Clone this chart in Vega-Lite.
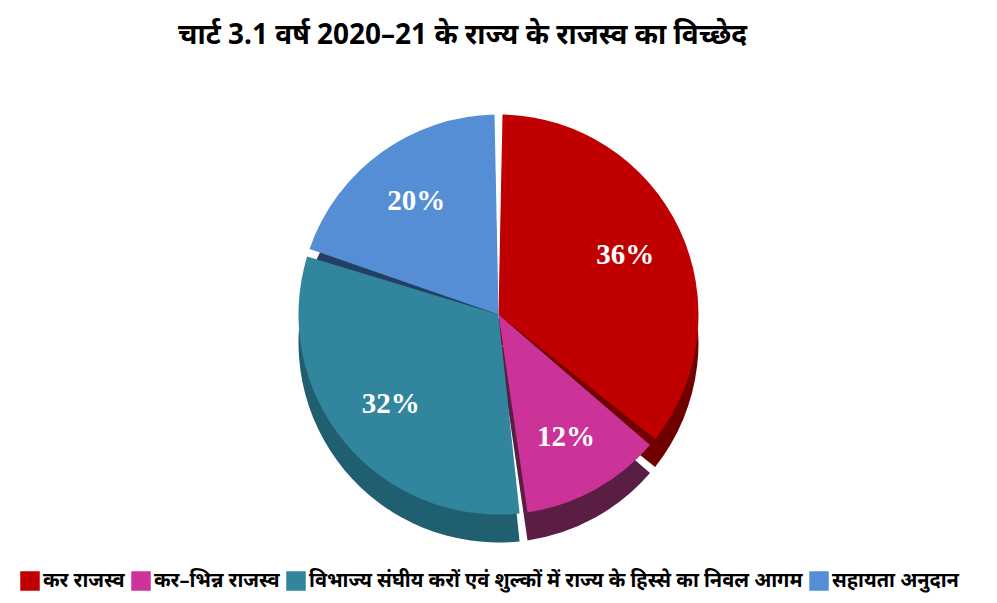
{
  "$schema": "https://vega.github.io/schema/vega-lite/v6.json",
  "autosize": {"type": "fit", "contains": "padding"},
  "width": 997,
  "height": 603,
  "background": "white",
  "padding": {"top": 22, "bottom": 12, "left": 20, "right": 20},
  "title": {
    "text": "चार्ट 3.1 वर्ष 2020–21 के राज्य के राजस्व का विच्छेद",
    "fontSize": 28,
    "fontWeight": "bold",
    "font": "Noto Sans",
    "color": "black",
    "anchor": "middle",
    "dx": -36,
    "offset": 18
  },
  "data": {
    "values": [
      {"category": "कर राजस्व", "value": 36, "label": "36%", "order": 1},
      {"category": "कर–भिन्न राजस्व", "value": 12, "label": "12%", "order": 2},
      {"category": "विभाज्य संघीय करों एवं शुल्कों में राज्य के हिस्से का निवल आगम", "value": 32, "label": "32%", "order": 3},
      {"category": "सहायता अनुदान", "value": 20, "label": "20%", "order": 4}
    ]
  },
  "layer": [
    {
      "mark": {"type": "arc", "radius": 200, "yOffset": 28, "padAngle": 0.04, "stroke": null},
      "encoding": {
        "theta": {"field": "value", "type": "quantitative", "stack": true},
        "order": {"field": "order", "type": "quantitative"},
        "color": {
          "field": "category",
          "type": "nominal",
          "scale": {
            "domain": ["कर राजस्व", "कर–भिन्न राजस्व", "विभाज्य संघीय करों एवं शुल्कों में राज्य के हिस्से का निवल आगम", "सहायता अनुदान"],
            "range": ["#700000", "#5a1e45", "#1f5f70", "#233f63"]
          },
          "legend": null
        }
      }
    },
    {
      "mark": {"type": "arc", "radius": 200, "padAngle": 0.04, "stroke": null},
      "encoding": {
        "theta": {"field": "value", "type": "quantitative", "stack": true},
        "order": {"field": "order", "type": "quantitative"},
        "color": {
          "field": "category",
          "type": "nominal",
          "scale": {
            "domain": ["कर राजस्व", "कर–भिन्न राजस्व", "विभाज्य संघीय करों एवं शुल्कों में राज्य के हिस्से का निवल आगम", "सहायता अनुदान"],
            "range": ["#c00000", "#cc3399", "#31859c", "#558ed5"]
          },
          "legend": {
            "orient": "bottom",
            "direction": "horizontal",
            "title": null,
            "symbolType": "square",
            "symbolSize": 380,
            "symbolStrokeWidth": 0,
            "labelFontSize": 20,
            "labelFontWeight": "bold",
            "labelFont": "Noto Sans",
            "labelColor": "black",
            "labelLimit": 800,
            "columnPadding": 6,
            "labelOffset": 3,
            "offset": 10
          }
        }
      }
    },
    {
      "mark": {"type": "text", "radius": 140, "font": "Liberation Serif", "fontSize": 29, "fontWeight": "bold", "color": "white"},
      "encoding": {
        "theta": {"field": "value", "type": "quantitative", "stack": true},
        "order": {"field": "order", "type": "quantitative"},
        "text": {"field": "label", "type": "nominal"}
      }
    }
  ],
  "resolve": {"scale": {"color": "independent"}, "legend": {"color": "independent"}},
  "config": {"view": {"stroke": null}}
}
